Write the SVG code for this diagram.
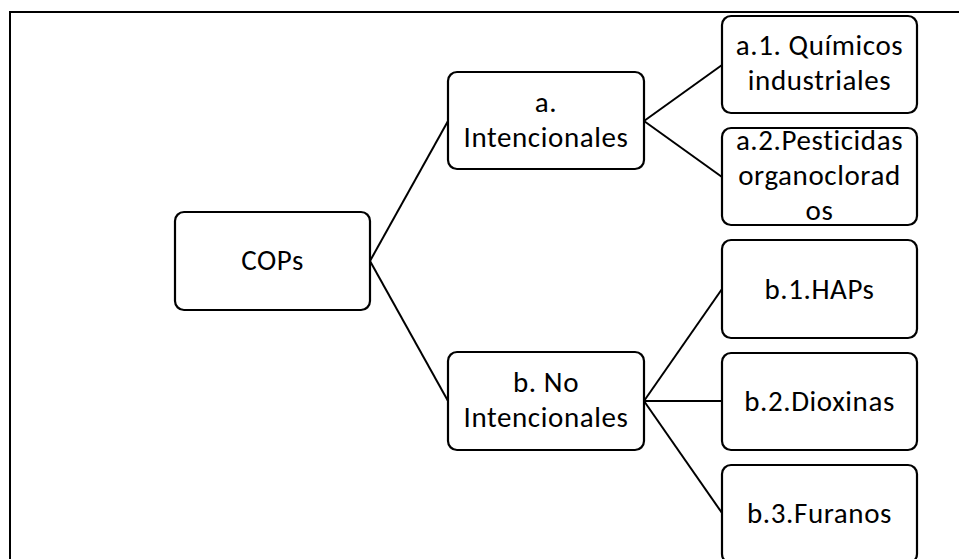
<svg xmlns="http://www.w3.org/2000/svg" width="959" height="559" viewBox="0 0 959 559">
<style>
.frame{fill:#ffffff;stroke:#000;stroke-width:2}
.box{fill:#ffffff;stroke:#000;stroke-width:2.2}
.conn line{stroke:#000;stroke-width:2}
text{font-family:Carlito,Lato,"Open Sans","Liberation Sans",sans-serif;font-size:29px;letter-spacing:0.6px;fill:#000;text-anchor:middle}
</style>
<rect class="frame" x="10" y="12" width="960" height="560"/>
<g id="connectors" class="conn">
<line x1="370" y1="261" x2="448" y2="121"/>
<line x1="370" y1="261" x2="448" y2="401"/>
<line x1="644" y1="121" x2="722" y2="65"/>
<line x1="644" y1="121" x2="722" y2="177"/>
<line x1="644" y1="401" x2="722" y2="289"/>
<line x1="644" y1="401" x2="722" y2="401"/>
<line x1="644" y1="401" x2="722" y2="513"/>
</g>
<g id="cops">
<rect class="box" x="175" y="212" width="195" height="98" rx="9"/>
<text x="272.5" y="270">COPs</text>
</g>
<g id="a">
<rect class="box" x="448" y="72" width="196" height="97" rx="9"/>
<text x="546" y="112">a.</text>
<text x="546" y="147">Intencionales</text>
</g>
<g id="b">
<rect class="box" x="448" y="352" width="196" height="98" rx="9"/>
<text x="546" y="392">b. No</text>
<text x="546" y="427">Intencionales</text>
</g>
<g id="a1">
<rect class="box" x="722" y="16" width="195" height="97" rx="9"/>
<text x="819.5" y="55">a.1. Químicos</text>
<text x="819.5" y="90">industriales</text>
</g>
<g id="a2">
<rect class="box" x="722" y="128" width="195" height="97" rx="9"/>
<text x="819.5" y="150">a.2.Pesticidas</text>
<text x="819.5" y="185">organoclorad</text>
<text x="819.5" y="220">os</text>
</g>
<g id="b1">
<rect class="box" x="722" y="240" width="195" height="98" rx="9"/>
<text x="819.5" y="299">b.1.HAPs</text>
</g>
<g id="b2">
<rect class="box" x="722" y="353" width="195" height="97" rx="9"/>
<text x="819.5" y="411">b.2.Dioxinas</text>
</g>
<g id="b3">
<rect class="box" x="722" y="465" width="195" height="98" rx="9"/>
<text x="819.5" y="523">b.3.Furanos</text>
</g>
</svg>
